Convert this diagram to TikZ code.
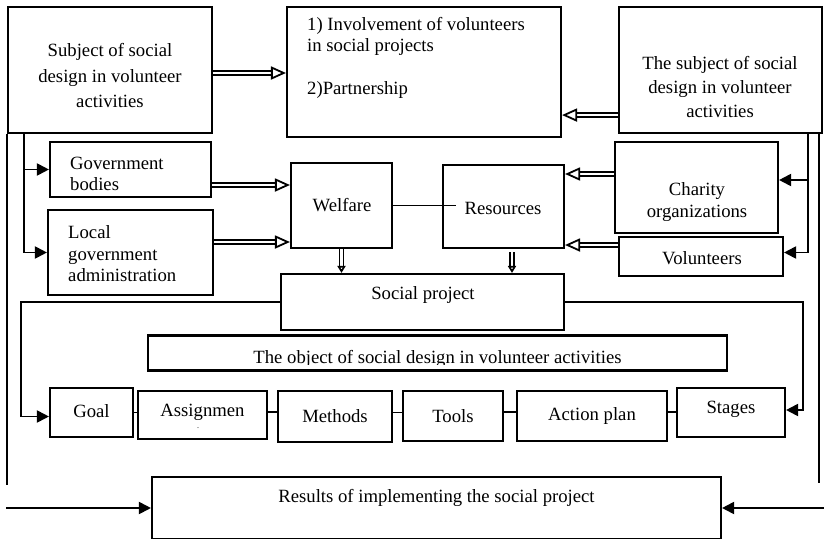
\documentclass[tikz,border=0pt]{standalone}
\usepackage{fontspec}
\setmainfont{Liberation Serif}
\usetikzlibrary{arrows.meta,calc}
\begin{document}
\begin{tikzpicture}[x=1pt,y=-1pt,
  box/.style={draw, line width=2.1pt, inner sep=0pt},
  txt/.style={inner sep=0pt, font=\fontsize{18.7}{21.5}\selectfont},
  ln/.style={line width=1.9pt},
  tri/.style={ln, -{Triangle[length=12pt,width=12pt]}},
  hollow/.style={double, double distance=2.6pt, line width=1.8pt, -{Triangle[open,length=15pt,width=13pt]}},
  hollowd/.style={double, double distance=2.4pt, line width=1.7pt, -{Triangle[open,length=7pt,width=8pt]}}]
\useasboundingbox (0,0) rectangle (824,538);
% boxes
\node[box, minimum width=204pt, minimum height=126pt] (s1) at (110,70) {};
\node[txt, align=center, font=\fontsize{18.7}{25.5}\selectfont] (s1t) at (110,76) {Subject of social\\design in volunteer\\activities};
\node[box, minimum width=274pt, minimum height=130pt] (inv) at (424,72) {};
\node[txt, align=left, anchor=north west] (invt) at (307,17) {1) Involvement of volunteers\\in social projects\\[21.5pt]2)Partnership};
\node[box, minimum width=203pt, minimum height=126pt] (s2) at (720.5,70) {};
\node[txt, align=center, font=\fontsize{18.7}{24}\selectfont] (s2t) at (720,87) {The subject of social\\design in volunteer\\activities};
\node[box, minimum width=161pt, minimum height=55pt] (gov) at (130.5,169.5) {};
\node[txt, align=left, anchor=west] (govt) at (70,174) {Government\\bodies};
\node[box, minimum width=165pt, minimum height=85pt] (loc) at (130.5,252.5) {};
\node[txt, align=left, anchor=west] (loct) at (68,254) {Local\\government\\administration};
\node[box, minimum width=101pt, minimum height=85pt] (wel) at (341.5,205.5) {};
\node[txt] (welt) at (342,205) {Welfare};
\node[box, minimum width=121pt, minimum height=83pt] (res) at (503.5,206.5) {};
\node[txt] (rest) at (503,208) {Resources};
\node[box, minimum width=163pt, minimum height=91pt] (cha) at (696.5,187.5) {};
\node[txt, align=center] (chat) at (697,202) {Charity\\organizations};
\node[box, minimum width=164pt, minimum height=39pt] (vol) at (701,256.5) {};
\node[txt] (volt) at (702,258) {Volunteers};
\node[box, minimum width=283pt, minimum height=56pt] (sp) at (422.5,302) {};
\node[txt] (spt) at (423,295) {Social project};
\node[box, minimum width=579pt, minimum height=35pt] (obj) at (437.5,353) {};
\begin{scope}
\clip (148,336) rectangle (727,364.5);
\node[txt, anchor=base] (objt) at (437.5,363.5) {The object of social design in volunteer activities};
\end{scope}
\node[box, minimum width=83pt, minimum height=49pt, txt] (goal) at (91.5,412.5) {};
\node[txt] (goalt) at (91.5,411) {Goal};
\node[box, minimum width=129pt, minimum height=48pt] (asg) at (202.5,415) {};
\node[txt] (asgt) at (202.5,412) {Assignmen};
\node[inner sep=0pt, font=\fontsize{8}{8}\selectfont] (asgd) at (198,428) {.};
\node[box, minimum width=114pt, minimum height=51pt, txt] (met) at (335,416.5) {Methods};
\node[box, minimum width=100pt, minimum height=50pt, txt] (too) at (453,416) {Tools};
\node[box, minimum width=150pt, minimum height=50pt, txt] (act) at (592,416) {Action plan};
\node[box, minimum width=108pt, minimum height=49pt] (stg) at (731,412.5) {};
\node[txt] (stgt) at (731,409) {Stages};
\node[box, minimum width=569pt, minimum height=62pt] (rsl) at (436.5,508) {};
\node[txt] (rslt) at (436.5,498) {Results of implementing the social project};
% hollow arrows
\draw[hollow] (s1.east |- 0,73) -- (inv.west |- 0,73);
\coordinate (h2) at ([yshift=19pt]s2.south west);
\draw[hollow] (h2) -- (h2 -| inv.east);
\coordinate (h3) at ([yshift=-15.5pt]gov.east);
\draw[hollow] (h3) -- (h3 -| wel.west);
\coordinate (h4) at ([yshift=10.5pt]loc.east);
\draw[hollow] (h4) -- (h4 -| wel.west);
\coordinate (h5) at ([yshift=13.5pt]cha.west);
\draw[hollow] (h5) -- (h5 -| res.east);
\coordinate (h6) at ([yshift=11.5pt]vol.west);
\draw[hollow] (h6) -- (h6 -| res.east);
\draw[hollowd] (wel.south) -- (wel.south |- sp.north);
\coordinate (h8) at ([xshift=8.5pt,yshift=-3pt]res.south);
\draw[hollowd] (h8) -- (h8 |- sp.north);
% welfare - resources
\coordinate (wr) at ([xshift=14pt]res.west);
\draw[ln] (wel.east) -- (wel.east -| wr);
% left tree
\coordinate (a1) at ([xshift=17pt]s1.south west);
\draw[tri] (a1) |- (gov.west);
\draw[tri] (a1) |- (loc.west);
% right tree
\coordinate (a2) at ([xshift=-15pt]s2.south east);
\draw[tri] (a2) |- ([yshift=7.5pt]cha.east);
\draw[tri] (a2) |- ([yshift=4pt]vol.east);
% social project frame
\coordinate (fl) at (21,0);
\coordinate (gw) at ([yshift=-4pt]goal.west);
\draw[tri] (sp.west) -| (fl |- gw) -- (gw);
\coordinate (fr) at (803,0);
\coordinate (sw) at ([yshift=2.5pt]stg.east);
\draw[tri] (sp.east) -| (fr |- sw) -- (sw);
% bottom row links
\draw[ln] (goal.east) -- (goal.east -| asg.west);
\draw[ln] ([yshift=3pt]asg.east) -- ([yshift=3pt]asg.east -| met.west);
\draw[ln] ([yshift=4pt]met.east) -- ([yshift=4pt]met.east -| too.west);
\draw[ln] ([yshift=4pt]too.east) -- ([yshift=4pt]too.east -| act.west);
\draw[ln] ([yshift=4pt]act.east) -- ([yshift=4pt]act.east -| stg.west);
% outer lines
\coordinate (ol) at (8,485);
\draw[ln] (s1.south west) -- (s1.south west |- ol);
\coordinate (rl) at (6,507.5);
\draw[tri] (rl |- rsl.west) -- (rsl.west);
\coordinate (orr) at (819,483);
\draw[ln] (orr |- s2.south) -- (orr);
\coordinate (rr) at (824,507.5);
\draw[tri] (rr |- rsl.east) -- (rsl.east);
\end{tikzpicture}
\end{document}
